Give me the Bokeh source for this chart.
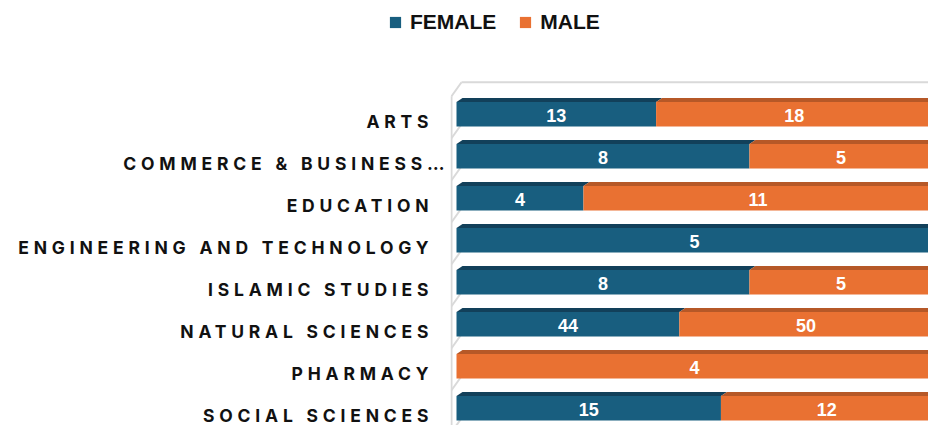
from bokeh.plotting import figure
from bokeh.models import Range1d, ColumnDataSource, Legend, LegendItem
from bokeh.layouts import column, row
from bokeh.embed import file_html
from bokeh.resources import INLINE
from bokeh.core.properties import value

# ---- data ----
categories = ["ARTS", "COMMERCE & BUSINESS…", "EDUCATION", "ENGINEERING AND TECHNOLOGY",
              "ISLAMIC STUDIES", "NATURAL SCIENCES", "PHARMACY", "SOCIAL SCIENCES"]
female = [13, 8, 4, 5, 8, 44, 0, 15]
male = [18, 5, 11, 0, 5, 50, 4, 12]
series = ["FEMALE", "MALE"]

# ---- style / geometry ----
FEM_C, FEM_TOP = "#185e7f", "#12405a"
MAL_C, MAL_TOP = "#e97132", "#b65827"
WALL_C = "#d9d9d9"
LEG_H = 50
LAB_W = 450
BAR_W = 928 - LAB_W
ROW_H = 425 - LEG_H
BAR_X0 = 456          # page px where value 0 sits
SCALE = 476.0         # px per 100 %
ROW0 = 111.75         # page y of first row centre
PITCH = 42.0          # px per row
LS = 4.8              # letter spacing for category labels
LAB_RIGHT = 428       # page x where category labels end
ELLIPSIS_HANG = 16    # truncated labels let the ellipsis hang past the edge

x_start = -(BAR_X0 - LAB_W) / SCALE
x_end = x_start + BAR_W / SCALE
y_top = (LEG_H - ROW0) / PITCH
y_bot = (425 - ROW0) / PITCH

def px_x(page_x):
    return x_start + (page_x - LAB_W) / SCALE

def px_y(dpx):
    return dpx / PITCH

n = len(categories)
ks = list(range(n))
totals = [f + m for f, m in zip(female, male)]
f_share = [f / t for f, t in zip(female, totals)]

# ---- bar figure ----
p = figure(width=BAR_W, height=ROW_H, output_backend="svg", toolbar_location=None,
           x_range=Range1d(x_start, x_end), y_range=Range1d(y_bot, y_top),
           min_border=0, outline_line_color=None)
p.axis.visible = False
p.grid.visible = False
p.background_fill_color = None
p.border_fill_color = None

# 3D wall lines
wx = px_x(451)
first_b = -1 + px_y(21)
p.segment(x0=[wx], y0=[first_b + px_y(5)], x1=[wx], y1=[y_bot + 1], line_color=WALL_C, line_width=2)
bxs0, bys0, bxs1, bys1 = [], [], [], []
for k in range(-1, n):
    b = k + px_y(21)
    bxs0.append(wx); bys0.append(b + px_y(5))
    bxs1.append(px_x(461)); bys1.append(b - px_y(9))
p.segment(x0=bxs0, y0=bys0, x1=bxs1, y1=bys1, line_color=WALL_C, line_width=2)
top_y = first_b - px_y(9)
p.segment(x0=[px_x(461)], y0=[top_y], x1=[x_end + 1], y1=[top_y], line_color=WALL_C, line_width=2)

# bars
dx = 6 / SCALE
segs = []
for k in ks:
    fs = f_share[k]
    segs.append((k, 0.0, fs, female[k], FEM_C, FEM_TOP))
    segs.append((k, fs, 1.0, male[k], MAL_C, MAL_TOP))
segs = [s for s in segs if s[3] > 0]

body = ColumnDataSource(dict(
    y=[s[0] + px_y(2) for s in segs],
    left=[s[1] for s in segs],
    right=[s[2] for s in segs],
    color=[s[4] for s in segs],
))
p.hbar(y="y", left="left", right="right", height=px_y(24.5), fill_color="color",
       line_color=None, source=body)

faces = ColumnDataSource(dict(
    xs=[[s[1], s[1] + dx, s[2] + dx, s[2]] for s in segs],
    ys=[[s[0] - px_y(10.25), s[0] - px_y(14.25), s[0] - px_y(14.25), s[0] - px_y(10.25)] for s in segs],
    color=[s[5] for s in segs],
))
p.patches(xs="xs", ys="ys", fill_color="color", line_color=None, source=faces)

labels = ColumnDataSource(dict(
    x=[(s[1] + s[2]) / 2 for s in segs],
    y=[s[0] + px_y(3.5) for s in segs],
    text=[str(s[3]) for s in segs],
))
p.text(x="x", y="y", text="text", source=labels, text_color="white",
       text_font=value("Liberation Sans"), text_font_style="bold", text_font_size="18px",
       text_align="center", text_baseline="alphabetic")

# ---- label figure ----
pl = figure(width=LAB_W, height=ROW_H, output_backend="svg", toolbar_location=None,
            x_range=Range1d(0, LAB_W), y_range=Range1d(y_bot, y_top),
            min_border=0, outline_line_color=None)
pl.axis.visible = False
pl.grid.visible = False
pl.background_fill_color = None
pl.border_fill_color = None
pl.styles = {"letter-spacing": f"{LS}px"}
cat_src = ColumnDataSource(dict(
    x=[LAB_RIGHT - (len(c) - 1) * LS + (ELLIPSIS_HANG if c.endswith("…") else 0)
       for c in categories],
    y=[k + px_y(9) for k in ks],
    text=categories,
))
pl.text(x="x", y="y", text="text", source=cat_src, text_color="#111111",
        text_font=value("Inter"), text_font_style="bold", text_font_size="17.5px",
        text_align="right", text_baseline="alphabetic")

# ---- legend figure ----
pg = figure(width=928, height=LEG_H, output_backend="svg", toolbar_location=None,
            x_range=Range1d(0, 1), y_range=Range1d(0, 1), min_border=0,
            outline_line_color=None)
pg.axis.visible = False
pg.grid.visible = False
pg.background_fill_color = None
pg.border_fill_color = None
items = []
for name, col in zip(series, [FEM_C, MAL_C]):
    r = pg.hbar(y=[5], left=[5], right=[6], height=1, fill_color=col, line_color=None)
    items.append(LegendItem(label=name, renderers=[r]))
leg = Legend(items=items, orientation="horizontal", location=(388, 16),
             glyph_width=14, glyph_height=14, label_standoff=8, spacing=22,
             padding=0, margin=0, border_line_color=None, background_fill_alpha=0,
             label_text_font="Liberation Sans", label_text_font_style="bold",
             label_text_font_size="21px", label_text_color="#111111", label_height=20)
pg.add_layout(leg, "center")

layout = column(pg, row(pl, p, spacing=0), spacing=0)
open("out.html", "w").write(file_html(layout, INLINE))
